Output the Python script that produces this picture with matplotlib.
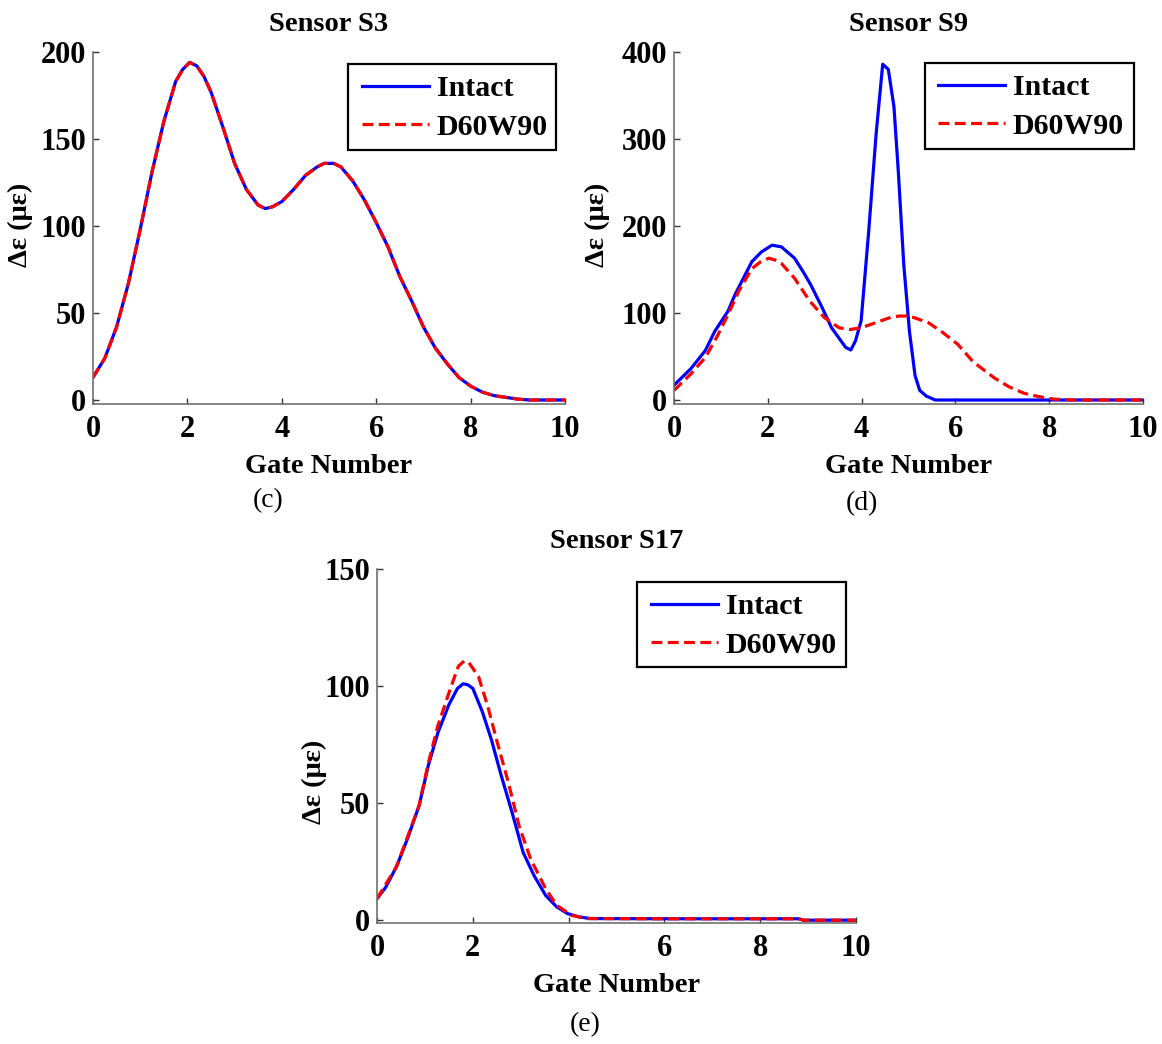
import matplotlib
matplotlib.use("Agg")
import matplotlib.pyplot as plt
from matplotlib.patches import Rectangle

plt.rcParams["font.family"] = ["Liberation Serif", "DejaVu Serif"]
plt.rcParams["font.weight"] = "bold"

# ---- Sensor S3 (both cases coincide) ----
gate_s3 = [0, 0.25, 0.5, 0.75, 1.0, 1.25, 1.5, 1.75, 1.9, 2.05, 2.2, 2.35, 2.5,
           2.75, 3.0, 3.25, 3.5, 3.65, 3.8, 4.0, 4.25, 4.5, 4.75, 4.9, 5.1,
           5.25, 5.5, 5.75, 6.0, 6.25, 6.5, 6.75, 7.0, 7.25, 7.5, 7.75, 8.0,
           8.25, 8.5, 8.75, 9.0, 9.25, 9.5, 9.75, 10.0]
s3_intact = [13, 24, 42, 67, 98, 131, 160, 183, 190, 194, 192, 186, 177,
             157, 136, 121, 112, 110, 111, 114, 121, 129, 134, 136, 136,
             134, 126, 115, 102, 88, 71, 57, 42, 30, 21, 13, 8,
             4.5, 2.5, 1.5, 0.5, 0, 0, 0, 0]
s3_damaged = [13, 24, 42, 67, 98, 131, 160, 183, 190, 194, 192, 186, 177,
              157, 136, 121, 112, 110, 111, 114, 121, 129, 134, 136, 136,
              134, 126, 115, 102, 88, 71, 57, 42, 30, 21, 13, 8,
              4.5, 2.5, 1.5, 0.5, 0, 0, 0, 0]

# ---- Sensor S9 ----
gate_s9_intact = [0, 0.36, 0.67, 0.87, 1.15, 1.3, 1.66, 1.86, 2.09, 2.29, 2.57,
                  2.77, 2.92, 3.16, 3.36, 3.56, 3.66, 3.77, 3.87, 3.99, 4.15,
                  4.31, 4.45, 4.57, 4.69, 4.78, 4.9, 5.02, 5.14, 5.24, 5.38,
                  5.57, 6.0, 8.0, 10.0]
s9_intact = [17, 36, 57, 79, 102, 121, 159, 170, 178, 176, 163,
             146, 132, 106, 83, 68, 60.5, 57.5, 68, 91, 193,
             306, 386, 380, 337, 265, 155, 79, 28, 11, 4.5,
             0, 0, 0, 0]
gate_s9_damaged = [0, 0.36, 0.67, 0.91, 1.15, 1.38, 1.66, 1.85, 2.02, 2.15, 2.29,
                   2.57, 2.89, 3.2, 3.52, 3.75, 3.99, 4.31, 4.62, 4.8, 4.94, 5.1,
                   5.42, 5.73, 6.05, 6.36, 6.52, 6.84, 7.15, 7.47, 7.79, 8.1,
                   8.5, 10.0]
s9_damaged = [11, 30, 49, 72, 98, 125, 151, 159, 163, 161, 157,
              140, 114, 95, 83, 81, 83, 89, 95, 96.5, 96.5, 95,
              89, 77.6, 64, 45, 38, 25, 15, 7.6, 3.8, 1,
              0, 0]

# ---- Sensor S17 ----
gate_s17_intact = [0, 0.18, 0.41, 0.64, 0.88, 1.07, 1.27, 1.5, 1.68, 1.8, 1.9,
                   2.0, 2.2, 2.39, 2.59, 2.82, 3.05, 3.28, 3.52, 3.75, 3.98,
                   4.22, 4.45, 6.0, 8.0, 8.8, 8.9, 10.0]
s17_intact = [9.2, 14, 23, 35, 49, 66, 80, 92, 99, 101, 100.5,
              99, 89, 77, 62, 46, 29, 19, 10.6, 5.7, 2.8,
              1.4, 0.7, 0.6, 0.6, 0.6, 0, 0]
gate_s17_damaged = [0, 0.41, 0.88, 1.07, 1.27, 1.55, 1.7, 1.82, 1.92, 2.12, 2.31,
                    2.51, 2.74, 2.97, 3.21, 3.52, 3.75, 4.06, 4.37, 6.0, 8.0,
                    8.8, 8.9, 10.0]
s17_damaged = [9.2, 23, 49, 67, 83, 100, 108.5, 110.7, 110, 104, 91.5,
               76, 59, 40, 26, 13.5, 6.4, 2.1, 0.7, 0.6, 0.6,
               0.6, 0, 0]

x_ticks = [0, 2, 4, 6, 8, 10]
series_labels = ["Intact", "D60W90"]

W, H = 1162, 1044
fig = plt.figure(figsize=(W / 100, H / 100), dpi=100)


def px_axes(left, top, right, bottom):
    return fig.add_axes([left / W, 1 - bottom / H, (right - left) / W,
                         (bottom - top) / H])


# box = axes (left, top, right, bottom); legbox = legend frame; legref = (handle x, rows centre y)
panels = [
    dict(box=(93, 52, 565, 404), title="Sensor S3",
         gi=gate_s3, yi=s3_intact, gd=gate_s3, yd=s3_damaged,
         ylim=(-2.3, 200), yticks=[0, 50, 100, 150, 200],
         ylab=(-0.127, 0.51), cap="(c)", cap_xy=(268, 501),
         legbox=(348, 64, 556, 150), legref=(362, 108)),
    dict(box=(674, 52, 1143, 404), title="Sensor S9",
         gi=gate_s9_intact, yi=s9_intact, gd=gate_s9_damaged, yd=s9_damaged,
         ylim=(-4.6, 400), yticks=[0, 100, 200, 300, 400],
         ylab=(-0.136, 0.51), cap="(d)", cap_xy=(862, 504),
         legbox=(925, 63, 1134, 149), legref=(938, 107)),
    dict(box=(377, 569, 856, 923), title="Sensor S17",
         gi=gate_s17_intact, yi=s17_intact, gd=gate_s17_damaged, yd=s17_damaged,
         ylim=(-1.2, 150), yticks=[0, 50, 100, 150],
         ylab=(-0.104, 0.40), cap="(e)", cap_xy=(585, 1025),
         legbox=(637, 582, 846, 667), legref=(651, 626)),
]

for p in panels:
    ax = px_axes(*p["box"])
    ax.plot(p["gi"], p["yi"], color="#0000ff", lw=2.3, solid_joinstyle="round",
            label=series_labels[0])
    ax.plot(p["gd"], p["yd"], color="#ff0000", lw=2.3,
            linestyle=(0, (3.4, 1.7)), label=series_labels[1])
    ax.set_xlim(0, 10)
    ax.set_ylim(*p["ylim"])
    ax.set_xticks(x_ticks)
    ax.set_yticks(p["yticks"])
    for s in ("top", "right"):
        ax.spines[s].set_visible(False)
    for s in ("left", "bottom"):
        ax.spines[s].set_color("#707070")
        ax.spines[s].set_linewidth(1.2)
    ax.tick_params(direction="in", length=4, width=1, color="#333333",
                   labelsize=22)
    ax.tick_params(axis="x", pad=8)
    ax.tick_params(axis="y", pad=5)
    for lab in ax.get_xticklabels() + ax.get_yticklabels():
        lab.set_fontweight("bold")
    ax.set_title(p["title"], fontsize=20.5, fontweight="bold", pad=15)
    ax.set_xlabel("Gate Number", fontsize=20.5, fontweight="bold", labelpad=7)
    ax.set_ylabel("Δε (με)", fontsize=20.5, fontweight="bold")
    ax.yaxis.set_label_coords(*p["ylab"])

    # legend frame
    l, t, r, b = p["legbox"]
    fig.patches.append(Rectangle((l / W, 1 - b / H), (r - l) / W, (b - t) / H,
                                 transform=fig.transFigure, facecolor="white",
                                 edgecolor="black", lw=1.6, zorder=5))
    hx, cy = p["legref"]
    leg = ax.legend(loc="center left", bbox_to_anchor=(hx / W, 1 - cy / H),
                    bbox_transform=fig.transFigure,
                    prop={"size": 21.5, "weight": "bold"}, frameon=False,
                    handlelength=2.25, handletextpad=0.25, borderpad=0,
                    labelspacing=0.37, borderaxespad=0)
    leg.set_zorder(6)
    leg.set_figure(fig)
    ax.legend_ = None
    fig.legends.append(leg)

    fig.text(p["cap_xy"][0] / W, 1 - p["cap_xy"][1] / H, p["cap"],
             fontsize=20, fontweight="normal", ha="center", va="center")

fig.savefig("out.png", dpi=100)
